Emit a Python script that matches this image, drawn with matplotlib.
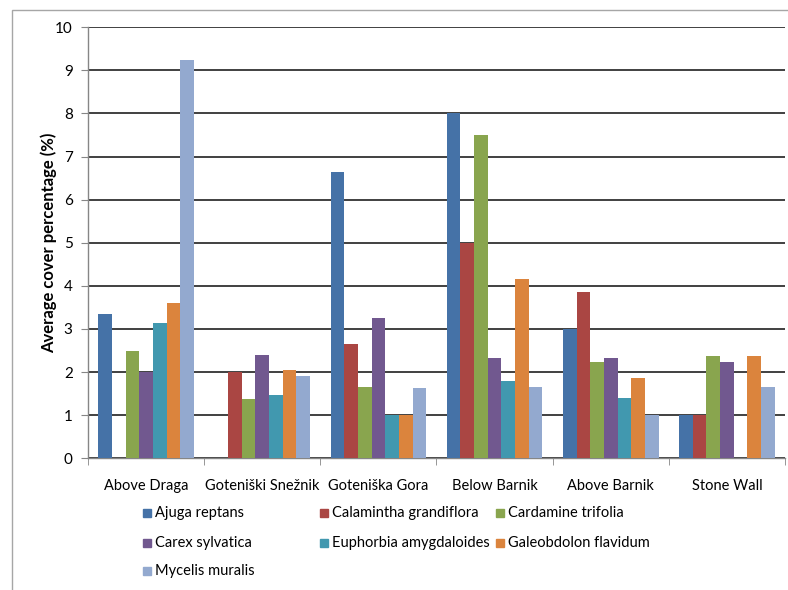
import numpy as np
import matplotlib.pyplot as plt
from matplotlib.patches import Rectangle

plt.rcParams['font.family'] = ['Lato', 'DejaVu Sans']

sites = ['Above Draga', 'Goteniški Snežnik', 'Goteniška Gora',
         'Below Barnik', 'Above Barnik', 'Stone Wall']
species = ['Ajuga reptans', 'Calamintha grandiflora', 'Cardamine trifolia',
           'Carex sylvatica', 'Euphorbia amygdaloides', 'Galeobdolon flavidum',
           'Mycelis muralis']

# one list per species, values per site
ajuga = [3.35, 0, 6.65, 8.0, 3.0, 1.0]
calamintha = [0, 2.0, 2.66, 5.0, 3.87, 1.0]
cardamine = [2.5, 1.38, 1.66, 7.5, 2.24, 2.37]
carex = [2.0, 2.4, 3.25, 2.32, 2.32, 2.24]
euphorbia = [3.15, 1.48, 1.0, 1.8, 1.39, 0]
galeobdolon = [3.6, 2.06, 1.0, 4.16, 1.86, 2.37]
mycelis = [9.25, 1.9, 1.64, 1.66, 1.0, 1.66]

values = [ajuga, calamintha, cardamine, carex, euphorbia, galeobdolon, mycelis]
colors = ['#4572A7', '#AA4643', '#89A54E', '#71588F', '#4198AF', '#DB843D', '#93A9CF']

W, H = 788, 590
fig = plt.figure(figsize=(W / 100, H / 100), dpi=100)
ax = fig.add_axes([88 / W, 1 - 458.3 / H, (785 - 88) / W, (458.3 - 27.3) / H])

n = len(species)
bw = 1 / 8.5  # excel gap width 150%
x = np.arange(len(sites))
for i in range(n):
    off = (i - (n - 1) / 2) * bw
    ax.bar(x + off, values[i], bw, color=colors[i], edgecolor='none', zorder=3)

ax.set_xlim(-0.5, len(sites) - 0.5)
ax.set_ylim(0, 10)
ax.set_yticks(range(0, 11))
ax.yaxis.grid(True, color='#404040', linewidth=1.4, zorder=0)
ax.set_axisbelow(True)

ax.set_xticks(x)
ax.set_xticklabels(sites)
ax.set_xticks(np.arange(-0.5, len(sites)), minor=True)
ax.tick_params(axis='x', which='major', length=0, pad=15, labelsize=10.5)
ax.tick_params(axis='x', which='minor', length=5, color='#868686', direction='out')
ax.tick_params(axis='y', length=5, color='#868686', direction='out', pad=6, labelsize=11)

for s in ['top', 'right']:
    ax.spines[s].set_visible(False)
for s in ['left', 'bottom']:
    ax.spines[s].set_color('#868686')
    ax.spines[s].set_linewidth(1.0)

ax.set_ylabel('Average cover percentage (%)', fontsize=12, fontweight='bold')
ax.yaxis.set_label_coords(-31 / (785 - 88), 0.5)

# legend, filled row by row like the original
col_x = [147, 324, 500]
row_y = [513, 543, 571]
for i, name in enumerate(species):
    cx = col_x[i % 3]
    cy = row_y[i // 3]
    fig.patches.append(Rectangle(((cx - 4) / W, 1 - (cy + 4) / H), 8 / W, 8 / H,
                                 transform=fig.transFigure, color=colors[i]))
    fig.text((cx + 8) / W, 1 - cy / H, name, fontsize=10.5, va='center', ha='left')

# chart area border
fig.patches.append(Rectangle((12 / W, -0.2), 2, 1 - 10 / H + 0.2, transform=fig.transFigure,
                             fill=False, edgecolor='#a6a6a6', linewidth=1.0))

fig.savefig('out.png', dpi=100)
